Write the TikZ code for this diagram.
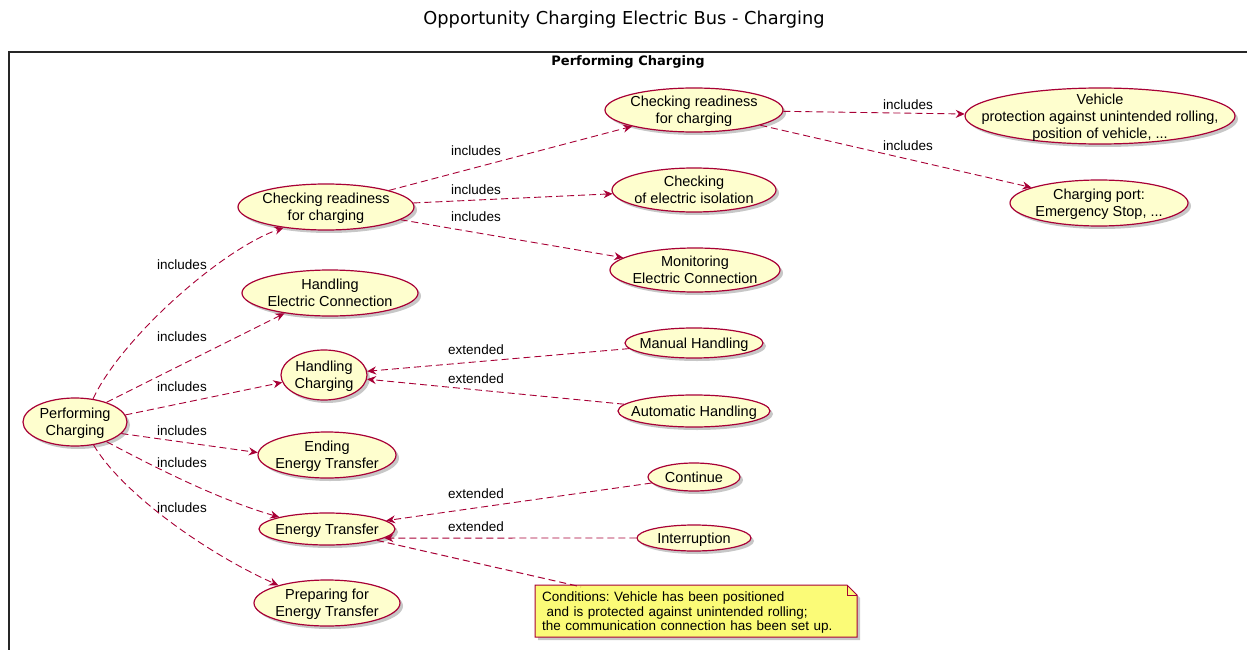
\documentclass[tikz,border=0pt]{standalone}
\usepackage{fontspec}
\setmainfont{Liberation Sans}
\newfontfamily\dvs{DejaVu Sans}
\usetikzlibrary{arrows.meta,shapes.geometric,shadows}
\definecolor{ucfill}{HTML}{FEFECE}
\definecolor{ucline}{HTML}{A80036}
\definecolor{notefill}{HTML}{FBFB77}
\newcommand{\ucTxt}[1]{\smash{\makebox[0pt]{\raisebox{-0.36em}{\begin{tabular}{@{}c@{}}#1\end{tabular}}}}}
\frenchspacing
\begin{document}
\begin{tikzpicture}[x=1pt,y=-1pt,
  uc/.style={ellipse, draw=ucline, fill=ucfill, line width=1.2pt, inner sep=0pt,
    font=\fontsize{14.5}{17}\selectfont,
    drop shadow={shadow xshift=3pt, shadow yshift=-3pt, fill=black, opacity=0.22}},
  rel/.style={draw=ucline, line width=0.9pt, dash pattern=on 7pt off 4pt,
    -{Stealth[length=9pt,width=8pt,inset=3pt]}},
  lbl/.style={font=\fontsize{13.5}{16}\selectfont, inner sep=0pt},
]
\useasboundingbox (0,0) rectangle (1247,650);
\fill[white] (0,0) rectangle (1247,650);
% frame
\draw[line width=1.5pt, black!85] (9,650) -- (9,52) -- (1247,52);
\node[font=\dvs\fontsize{17.8}{21}\selectfont] (title) at (624,20) {Opportunity Charging Electric Bus - Charging};
\node[font=\dvs\bfseries\fontsize{13}{16}\selectfont] (flabel) at (628,62) {Performing Charging};

% use cases
\node[uc, minimum width=104pt, minimum height=48pt] (pc) at (75,422) {\ucTxt{Performing\\Charging}};
\node[uc, minimum width=176pt, minimum height=46pt] (cr1) at (326,207) {\ucTxt{Checking readiness\\for charging}};
\node[uc, minimum width=176pt, minimum height=46pt] (hec) at (330,293) {\ucTxt{Handling\\Electric Connection}};
\node[uc, minimum width=86pt, minimum height=50pt] (hc) at (324,375) {\ucTxt{Handling\\Charging}};
\node[uc, minimum width=138pt, minimum height=46pt] (eet) at (327,455) {\ucTxt{Ending\\Energy Transfer}};
\node[uc, minimum width=136pt, minimum height=32pt] (et) at (327,529) {\ucTxt{Energy Transfer}};
\node[uc, minimum width=146pt, minimum height=46pt] (pet) at (327,603) {\ucTxt{Preparing for\\Energy Transfer}};
\node[uc, minimum width=178pt, minimum height=44pt] (cr2) at (694,110) {\ucTxt{Checking readiness\\for charging}};
\node[uc, minimum width=164pt, minimum height=44pt] (cei) at (694,190) {\ucTxt{Checking\\of electric isolation}};
\node[uc, minimum width=170pt, minimum height=44pt] (mec) at (695,270) {\ucTxt{Monitoring\\Electric Connection}};
\node[uc, minimum width=270pt, minimum height=56pt] (veh) at (1100,116) {\ucTxt{Vehicle\\protection against unintended rolling,\\position of vehicle, ...}};
\node[uc, minimum width=178pt, minimum height=46pt] (cp) at (1099,203) {\ucTxt{Charging port:\\Emergency Stop, ...}};
\node[uc, minimum width=138pt, minimum height=30pt] (mh) at (694,343) {\ucTxt{Manual Handling}};
\node[uc, minimum width=152pt, minimum height=32pt] (ah) at (694,411) {\ucTxt{Automatic Handling}};
\node[uc, minimum width=92pt, minimum height=28pt] (con) at (694,477) {\ucTxt{Continue}};
\node[uc, minimum width=114pt, minimum height=26pt] (int) at (694,538) {\ucTxt{Interruption}};

% note
\filldraw[fill=notefill, draw=ucline, line width=1pt,
  drop shadow={shadow xshift=3pt, shadow yshift=-3pt, fill=black, opacity=0.22}]
  (535,585) -- (847,585) -- (857,595) -- (857,637) -- (535,637) -- cycle;
\draw[ucline, line width=1pt] (847,585) -- (847,595) -- (857,595);
\node[minimum width=322pt, minimum height=52pt, inner sep=0pt, text width=308pt, align=left,
  font=\fontsize{13.5}{14.5}\selectfont] (note) at (696,613)
  {Conditions: Vehicle has been positioned\\\ and is protected against unintended rolling;\\the communication connection has been set up.};

% includes from Performing Charging
\draw[rel] (pc.52) .. controls (120,340) and (220,250) .. (cr1.206);
\draw[rel] (pc.32) -- (hec.204);
\draw[rel] (pc.8) -- (hc.190);
\draw[rel] (pc.346) -- (eet.178);
\draw[rel] (pc.328) .. controls (160,470) and (220,500) .. (et.166);
\draw[rel] (pc.309) .. controls (120,490) and (200,550) .. (pet.160);
\node[lbl] (l1) at (182,265) {includes};
\node[lbl] (l2) at (182,337) {includes};
\node[lbl] (l3) at (182,387) {includes};
\node[lbl] (l4) at (182,431) {includes};
\node[lbl] (l5) at (182,463) {includes};
\node[lbl] (l6) at (182,508) {includes};

% includes from Checking readiness
\draw[rel] (cr1) -- (cr2);
\draw[rel] (cr1) -- (cei);
\draw[rel] (cr1) -- (mec);
\node[lbl] (l7) at (476,151) {includes};
\node[lbl] (l8) at (476,190) {includes};
\node[lbl] (l9) at (476,217) {includes};
\draw[rel] (cr2) -- (veh);
\draw[rel] (cr2) -- (cp);
\node[lbl] (l10) at (908,105) {includes};
\node[lbl] (l11) at (908,146) {includes};

% extended
\draw[rel] (mh) -- (hc);
\draw[rel] (ah) -- (hc);
\draw[rel] (con) -- (et);
\draw[rel] (int.180) -- (et.-9);
\node[lbl] (e1) at (476,350) {extended};
\node[lbl] (e2) at (476,379) {extended};
\node[lbl] (e3) at (476,494) {extended};
\node[lbl] (e4) at (476,527) {extended};

% note link
\draw[draw=ucline, line width=1pt, dash pattern=on 7pt off 4pt] (et) -- (note);
\end{tikzpicture}
\end{document}
